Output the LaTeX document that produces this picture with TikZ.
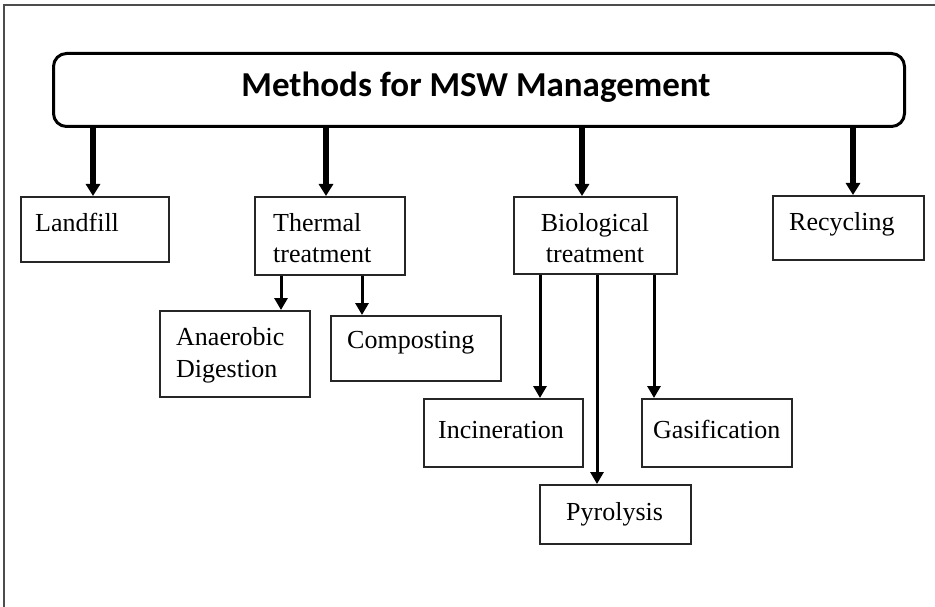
\documentclass[tikz,border=0pt]{standalone}
\usepackage{fontspec}
\setmainfont{Liberation Serif}
\newfontfamily\titlefont{Carlito}
\usetikzlibrary{arrows.meta}
\begin{document}
\begin{tikzpicture}[x=1pt,y=-1pt,
  box/.style={draw=black!85, line width=1.8pt, minimum width=#1, inner sep=0pt, anchor=north west},
  lbl/.style={font=\fontsize{26}{31}\selectfont, inner sep=0pt, anchor=base west},
  bigarrow/.style={line width=5.5pt, -{Triangle[length=12pt,width=14pt]}},
  smallarrow/.style={line width=3pt, -{Triangle[length=12pt,width=13pt]}}]
\useasboundingbox (0,0) rectangle (935,607);
\fill[white] (0,0) rectangle (935,607);
% outer frame (top and left)
\draw[black!70, line width=1.2pt] (935,5) -- (4,5) -- (4,607);
% title
\node[draw=black, line width=3pt, rounded corners=13pt, minimum width=851pt, minimum height=73pt, anchor=north west, inner sep=0pt] (title) at (52,52) {};
\node[font=\titlefont\bfseries\fontsize{35}{40}\selectfont, anchor=base, inner sep=0pt] (titleT) at (476,97) {Methods for MSW Management};
% first level boxes
\node[box=148pt, minimum height=65pt] (landfill) at (20,196) {};
\node[lbl] (landfillT) at (35,232) {Landfill};
\node[box=150pt, minimum height=78pt] (thermal) at (254,196) {};
\node[lbl] (thermalT1) at (273,231) {Thermal};
\node[lbl] (thermalT2) at (273,262) {treatment};
\node[box=163pt, minimum height=77pt] (bio) at (513,196) {};
\node[lbl, anchor=base] (bioT1) at (595,232) {Biological};
\node[lbl, anchor=base] (bioT2) at (595,262) {treatment};
\node[box=151pt, minimum height=64pt] (recyc) at (772,195) {};
\node[lbl] (recycT) at (789,230) {Recycling};
% second level
\node[box=150pt, minimum height=86pt] (anaer) at (159,310) {};
\node[lbl] (anaerT1) at (176,345) {Anaerobic};
\node[lbl] (anaerT2) at (176,377) {Digestion};
\node[box=170pt, minimum height=65pt] (compost) at (330,315) {};
\node[lbl] (compostT) at (347,348) {Composting};
\node[box=159pt, minimum height=68pt] (incin) at (423,398) {};
\node[lbl] (incinT) at (438,438) {Incineration};
\node[box=150pt, minimum height=68pt] (gasif) at (641,398) {};
\node[lbl] (gasifT) at (653,438) {Gasification};
\node[box=151pt, minimum height=59pt] (pyro) at (539,484) {};
\node[lbl] (pyroT) at (566,520) {Pyrolysis};
% x positions of connectors
\coordinate (x1) at (93,0);
\coordinate (x2) at (326,0);
\coordinate (x3) at (582,0);
\coordinate (x4) at (853,0);
\coordinate (x5) at (281,0);
\coordinate (x6) at (362,0);
\coordinate (x7) at (540,0);
\coordinate (x8) at (597,0);
\coordinate (x9) at (654,0);
% arrows from title
\draw[bigarrow] (title.south -| x1) -- (landfill.north -| x1);
\draw[bigarrow] (title.south -| x2) -- (thermal.north -| x2);
\draw[bigarrow] (title.south -| x3) -- (bio.north -| x3);
\draw[bigarrow] (title.south -| x4) -- (recyc.north -| x4);
% arrows from thermal
\draw[smallarrow] (thermal.south -| x5) -- (anaer.north -| x5);
\draw[smallarrow] (thermal.south -| x6) -- (compost.north -| x6);
% arrows from biological
\draw[smallarrow] (bio.south -| x7) -- (incin.north -| x7);
\draw[smallarrow] (bio.south -| x8) -- (pyro.north -| x8);
\draw[smallarrow] (bio.south -| x9) -- (gasif.north -| x9);
\end{tikzpicture}
\end{document}
